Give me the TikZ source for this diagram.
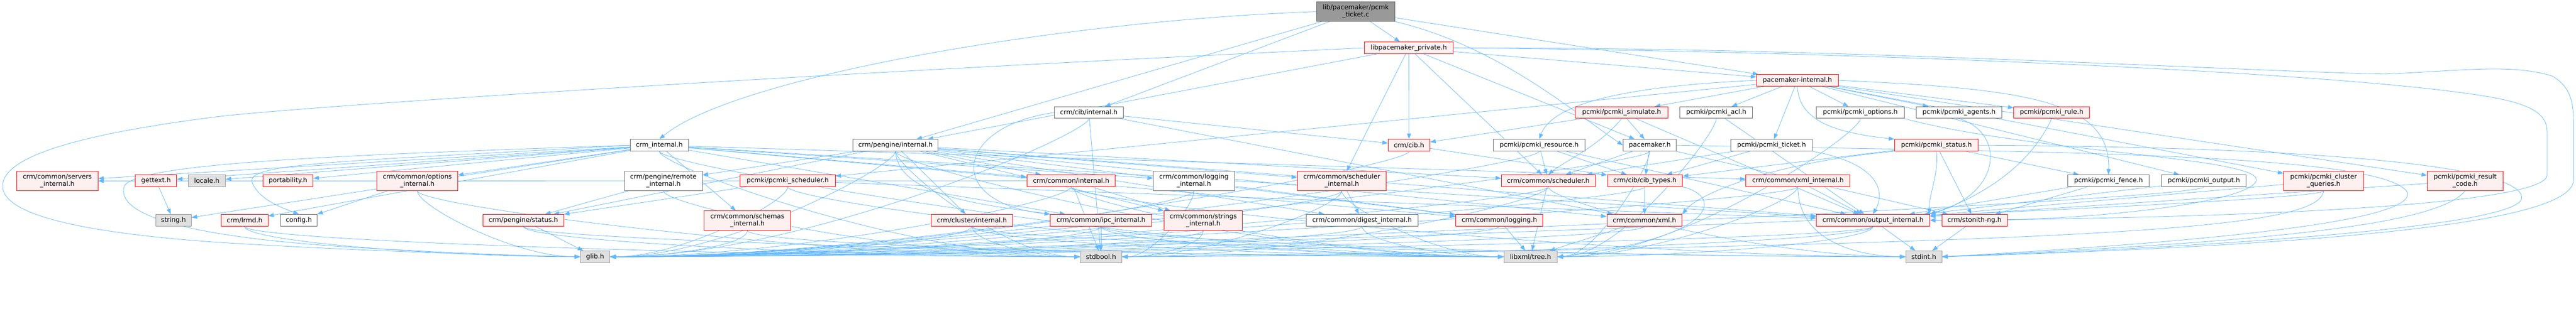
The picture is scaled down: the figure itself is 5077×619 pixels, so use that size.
\documentclass[tikz,border=0pt]{standalone}
\usepackage{fontspec}
\setmainfont{DejaVu Sans}
\usetikzlibrary{arrows.meta,backgrounds,calc}
\definecolor{edgec}{HTML}{63B8FF}
\definecolor{redb}{HTML}{FF0000}
\definecolor{redf}{HTML}{FFF0F0}
\definecolor{grayb}{HTML}{999999}
\definecolor{grayf}{HTML}{E0E0E0}
\definecolor{darkb}{HTML}{666666}
\newcommand\gfont{\fontsize{12.8}{14.2}\selectfont}
\tikzset{
 nbase/.style={draw, line width=1pt, inner sep=0pt, minimum height=23pt, font=\gfont, align=center, text=black},
 rn/.style={nbase, draw=redb, fill=redf},
 wn/.style={nbase, draw=darkb, fill=white},
 gn/.style={nbase, draw=grayb, fill=grayf},
 rootn/.style={nbase, draw=darkb, fill=grayb},
 tl/.style={minimum height=38pt},
 edg/.style={draw=edgec, line width=0.8pt, -{Triangle[length=11pt,width=8pt]}},
}
\newcommand\dnR[3]{\draw[edg] (#1.south) .. controls ($(#1.south)+(0,-30)$) and ($(#2.east)+(#3,0)$) .. (#2.east);}
\newcommand\dnL[3]{\draw[edg] (#1.south) .. controls ($(#1.south)+(0,-30)$) and ($(#2.west)+(-#3,0)$) .. (#2.west);}
\begin{document}
\begin{tikzpicture}[x=1pt,y=1pt]
\useasboundingbox (0,0) rectangle (5077,-619);
% row 0-2
\node[rootn,tl,minimum width=154pt] (root) at (2672,-23) {lib/pacemaker/pcmk\\\_ticket.c};
\node[rn,minimum width=175pt] (priv) at (2776.5,-94.5) {libpacemaker\_private.h};
\node[rn,minimum width=161pt] (pmi) at (3542.5,-158.5) {pacemaker-internal.h};
% row 3
\node[wn,minimum width=136pt] (cibint) at (2146,-222) {crm/cib/internal.h};
\node[rn,minimum width=182pt] (sim) at (3196,-222) {pcmki/pcmki\_simulate.h};
\node[wn,minimum width=143pt] (acl) at (3382.5,-222) {pcmki/pcmki\_acl.h};
\node[wn,minimum width=173pt] (opt) at (3666.5,-222) {pcmki/pcmki\_options.h};
\node[wn,minimum width=168pt] (agents) at (3861,-222) {pcmki/pcmki\_agents.h};
\node[rn,minimum width=149pt] (rule) at (4043.5,-222) {pcmki/pcmki\_rule.h};
% row 4
\node[wn,minimum width=115pt] (crmint) at (1299.5,-286.5) {crm\_internal.h};
\node[wn,minimum width=168pt] (peint) at (1765,-286.5) {crm/pengine/internal.h};
\node[rn,minimum width=82pt] (cibh) at (2777,-286.5) {crm/cib.h};
\node[wn,minimum width=181pt] (res) at (3033.5,-286.5) {pcmki/pcmki\_resource.h};
\node[wn,minimum width=105pt] (pmh) at (3251.5,-286.5) {pacemaker.h};
\node[wn,minimum width=161pt] (ticket) at (3491.5,-286.5) {pcmki/pcmki\_ticket.h};
\node[rn,minimum width=165pt] (status) at (3816.5,-286.5) {pcmki/pcmki\_status.h};
% row 5
\node[rn,tl,minimum width=160pt] (servers) at (113,-357) {crm/common/servers\\\_internal.h};
\node[rn,minimum width=81pt] (gettext) at (307.5,-356.5) {gettext.h};
\node[gn,minimum width=73pt] (locale) at (407.5,-356.5) {locale.h};
\node[rn,minimum width=99pt] (port) at (567.5,-356.5) {portability.h};
\node[rn,tl,minimum width=159pt] (optint) at (822.5,-357) {crm/common/options\\\_internal.h};
\node[wn,tl,minimum width=153pt] (remote) at (1307.5,-357) {crm/pengine/remote\\\_internal.h};
\node[rn,minimum width=187pt] (psched) at (1552.5,-356.5) {pcmki/pcmki\_scheduler.h};
\node[rn,minimum width=174pt] (cint) at (2111,-356.5) {crm/common/internal.h};
\node[wn,tl,minimum width=160pt] (logint) at (2353,-357) {crm/common/logging\\\_internal.h};
\node[rn,tl,minimum width=175pt] (schedint) at (2644.5,-357) {crm/common/scheduler\\\_internal.h};
\node[rn,minimum width=185pt] (sched) at (3051.5,-356.5) {crm/common/scheduler.h};
\node[rn,minimum width=148pt] (cibtypes) at (3242,-356.5) {crm/cib/cib\_types.h};
\node[rn,minimum width=205pt] (xmlint) at (3543.5,-356.5) {crm/common/xml\_internal.h};
\node[wn,minimum width=161pt] (fence) at (4155.5,-356.5) {pcmki/pcmki\_fence.h};
\node[wn,minimum width=167pt] (output) at (4343.5,-356.5) {pcmki/pcmki\_output.h};
\node[rn,tl,minimum width=157pt] (cq) at (4579.5,-357) {pcmki/pcmki\_cluster\\\_queries.h};
\node[rn,tl,minimum width=149pt] (rc) at (4858.5,-357) {pcmki/pcmki\_result\\\_code.h};
% row 6
\node[gn,minimum width=70pt] (string) at (342,-434.5) {string.h};
\node[rn,minimum width=92pt] (lrmd) at (482,-434.5) {crm/lrmd.h};
\node[wn,minimum width=72pt] (config) at (589,-434.5) {config.h};
\node[rn,minimum width=159pt] (pstatus) at (1031.5,-434.5) {crm/pengine/status.h};
\node[rn,tl,minimum width=170pt] (schemas) at (1473,-435) {crm/common/schemas\\\_internal.h};
\node[rn,minimum width=161pt] (clint) at (1915.5,-434.5) {crm/cluster/internal.h};
\node[rn,minimum width=200pt] (ipc) at (2170,-434.5) {crm/common/ipc\_internal.h};
\node[rn,tl,minimum width=155pt] (strint) at (2371.5,-435) {crm/common/strings\\\_internal.h};
\node[wn,minimum width=221pt] (digest) at (2684.5,-434.5) {crm/common/digest\_internal.h};
\node[rn,minimum width=172pt] (logging) at (2955,-434.5) {crm/common/logging.h};
\node[rn,minimum width=148pt] (xml) at (3241,-434.5) {crm/common/xml.h};
\node[rn,minimum width=223pt] (outint) at (3691.5,-434.5) {crm/common/output\_internal.h};
\node[rn,minimum width=129pt] (stonith) at (3891.5,-434.5) {crm/stonith-ng.h};
% row 7
\node[gn,minimum width=58pt] (glib) at (1173,-506.5) {glib.h};
\node[gn,minimum width=82pt] (stdbool) at (2170,-506.5) {stdbool.h};
\node[gn,minimum width=105pt] (tree) at (3016.5,-506.5) {libxml/tree.h};
\node[gn,minimum width=71pt] (stdint) at (3791.5,-506.5) {stdint.h};

\begin{scope}[on background layer]
% root
\draw[edg] (root) -- (priv);
\draw[edg] (root.west) .. controls (2100,-40) and (1450,-150) .. (crmint.north);
\draw[edg] (root) -- (cibint);
\draw[edg] (root) -- (peint);
\draw[edg] (root) -- (pmi);
\draw[edg] (root.south east) .. controls (2950,-90) and (3100,-220) .. (pmh.west);
% libpacemaker_private
\draw[edg] (priv) -- (cibh);
\draw[edg] (priv) -- (schedint);
\draw[edg] (priv) -- (sched);
\draw[edg] (priv) -- (pmh);
\draw[edg] (priv) -- (pmi);
\draw[edg] (priv) -- (peint);
\draw[edg] (priv.west) .. controls (1500,-150) and (600,-210) .. (430,-230) .. controls (150,-265) and (5,-310) .. (5,-367) .. controls (5,-430) and (200,-462) .. (430,-478) .. controls (700,-495) and (1000,-504) .. (glib.west);
\draw[edg] (priv.east) .. controls (3600,-100) and (4600,-140) .. (4900,-190) .. controls (4990,-205) and (5020,-225) .. (5020,-260) -- (5020,-345) .. controls (5020,-400) and (4500,-430) .. (outint.east);
\draw[edg] (priv.east) .. controls (3600,-92) and (4400,-140) .. (4700,-146) .. controls (4850,-140) and (4950,-125) .. (5030,-150) .. controls (5065,-170) and (5072,-200) .. (5072,-240) -- (5072,-355) .. controls (5072,-430) and (4700,-480) .. (stdint.east);
% pacemaker-internal
\draw[edg] (pmi) -- (psched);
\draw[edg] (pmi.west) .. controls (3200,-170) and (3060,-205) .. (res.north);
\draw[edg] (pmi) -- (sim);
\draw[edg] (pmi) -- (acl);
\draw[edg] (pmi) -- (ticket);
\draw[edg] (pmi) -- (opt);
\draw[edg] (pmi) -- (agents);
\draw[edg] (pmi) -- (rule);
\draw[edg] (pmi.south) .. controls (3545,-240) and (3620,-262) .. (status.north west);
\draw[edg] (pmi.east) .. controls (4000,-175) and (4160,-200) .. (fence.north);
\draw[edg] (pmi) -- (output);
\draw[edg] (pmi) -- (cq);
\draw[edg] (pmi) -- (rc);
% crm/cib/internal.h
\draw[edg] (cibint) -- (cibh);
\draw[edg] (cibint.west) .. controls (1880,-250) and (1860,-400) .. (ipc.north west);
\dnR{cibint}{glib}{380}
\draw[edg] (cibint) -- (xml);
\draw[edg] (cibint) -- (stdbool);
% crm_internal.h
\draw[edg] (crmint) -- (servers);
\draw[edg] (crmint) -- (gettext);
\draw[edg] (crmint) -- (locale);
\draw[edg] (crmint) -- (port);
\draw[edg] (crmint.west) .. controls (700,-318) and (480,-320) .. (497,-360) .. controls (510,-392) and (550,-408) .. (config.north);
\draw[edg] (crmint) -- (lrmd);
\draw[edg] (crmint) -- (optint);
\draw[edg] (crmint.west) .. controls (700,-305) and (270,-320) .. (245,-367) .. controls (225,-430) and (400,-470) .. (700,-488) .. controls (900,-500) and (1050,-505) .. (glib.west);
\draw[edg] (crmint) -- (string);
\dnL{crmint}{stdbool}{330}
\dnL{crmint}{tree}{600}
\draw[edg] (crmint) -- (logging);
\draw[edg] (crmint) -- (logint);
\draw[edg] (crmint) -- (ipc);
\draw[edg] (crmint) -- (outint);
\draw[edg] (crmint) -- (xmlint);
\draw[edg] (crmint) -- (cint);
\draw[edg] (crmint) -- (schemas);
% small ones
\draw[edg] (gettext) -- (string);
\draw[edg] (optint) -- (config);
\dnL{optint}{glib}{130}
\dnL{optint}{stdbool}{520}
\dnL{lrmd}{stdbool}{600}
\dnL{lrmd}{glib}{265}
% crm/pengine/internal.h
\draw[edg] (peint) -- (remote);
\draw[edg] (peint) -- (pstatus);
\draw[edg] (peint) -- (cint);
\draw[edg] (peint) -- (clint);
\draw[edg] (peint) -- (schedint);
\dnR{peint}{glib}{225}
\dnL{peint}{stdbool}{145}
\dnL{peint}{tree}{480}
\draw[edg] (peint) -- (logging);
\draw[edg] (peint) -- (strint);
\draw[edg] (peint) -- (outint);
\draw[edg] (peint.south) .. controls (1770,-390) and (1950,-405) .. (ipc.north west);
\draw[edg] (peint) -- (sched);
\draw[edg] (peint) -- (digest);
\draw[edg] (peint) -- (xml);
% remote, pcmki_scheduler, status, schemas
\draw[edg] (remote) -- (pstatus);
\dnL{remote}{stdbool}{330}
\draw[edg] (psched) -- (pstatus);
\dnR{psched}{glib}{140}
\draw[edg] (psched) -- (outint);
\dnL{psched}{tree}{565}
\draw[edg] (pstatus) -- (glib);
\dnL{pstatus}{stdbool}{440}
\dnL{pstatus}{tree}{600}
\dnR{schemas}{glib}{110}
\dnL{schemas}{tree}{600}
% crm/common/internal.h
\draw[edg] (cint) -- (strint);
\draw[edg] (cint) -- (servers);
\dnR{cint}{glib}{360}
\draw[edg] (cint) -- (stdbool);
\dnL{cint}{tree}{340}
\dnL{cint}{stdint}{600}
\draw[edg] (logint) -- (logging);
\dnR{logint}{glib}{460}
\dnR{logint}{stdbool}{60}
\dnR{clint}{glib}{285}
\dnL{clint}{stdbool}{85}
\dnL{clint}{tree}{420}
\dnL{clint}{stdint}{600}
\draw[edg] (ipc) -- (stdbool);
\dnR{ipc}{glib}{390}
\dnL{ipc}{tree}{320}
\dnL{ipc}{stdint}{600}
\dnR{strint}{glib}{470}
\dnR{strint}{stdbool}{65}
\draw[edg] (schedint) -- (digest);
\dnR{schedint}{glib}{580}
\dnR{schedint}{stdbool}{170}
\dnL{schedint}{tree}{130}
\dnL{digest}{tree}{110}
\dnR{digest}{glib}{590}
\draw[edg] (logging) -- (tree);
\dnR{logging}{glib}{600}
\dnR{sched}{glib}{600}
\dnR{sched}{stdbool}{340}
\draw[edg] (sched) -- (tree);
\dnL{sched}{stdint}{280}
\draw[edg] (cibtypes) -- (xml);
\draw[edg] (cibtypes.south east) .. controls (3400,-390) and (3380,-470) .. (tree.east);
\dnR{cibtypes}{glib}{600}
\draw[edg] (xml) -- (tree);
\dnR{xml}{glib}{600}
\draw[edg] (xmlint) -- (outint);
\draw[edg] (xmlint.south) .. controls (3543,-470) and (3650,-505) .. (stdint.west);
\dnR{xmlint}{tree}{190}
\dnR{xmlint}{glib}{600}
\draw[edg] (outint) -- (stdint);
\dnR{outint}{glib}{600}
\dnR{outint}{tree}{250}
\dnR{outint}{stdbool}{590}
\draw[edg] (stonith) -- (stdint);
% pcmki headers
\draw[edg] (res) -- (sched);
\draw[edg] (res) -- (cibtypes);
\dnR{res}{glib}{600}
\draw[edg] (res) -- (outint);
\draw[edg] (pmh) -- (sched);
\draw[edg] (pmh) -- (cibtypes);
\dnR{pmh}{glib}{600}
\dnR{pmh}{tree}{75}
\draw[edg] (pmh) -- (stonith);
\draw[edg] (pmh.east) .. controls (4000,-300) and (4700,-300) .. (4745,-380) .. controls (4760,-440) and (4300,-480) .. (stdint.east);
\draw[edg] (sim) -- (pmh);
\draw[edg] (sim.south) .. controls (3150,-290) and (3080,-320) .. (sched.north);
\draw[edg] (sim) -- (cibh);
\draw[edg] (sim) -- (outint);
\draw[edg] (acl) -- (outint);
\dnR{acl}{tree}{125}
\draw[edg] (ticket.south east) .. controls (3690,-320) and (3720,-370) .. (outint.north);
\draw[edg] (ticket) -- (cibtypes);
\draw[edg] (ticket) -- (sched);
\draw[edg] (opt.south east) .. controls (4000,-300) and (4450,-310) .. (4447,-355) .. controls (4440,-400) and (4100,-440) .. (outint.east);
\dnR{opt}{tree}{240}
\draw[edg] (agents.south) .. controls (3950,-260) and (3950,-380) .. (outint.north east);
\draw[edg] (rule.south) .. controls (4000,-330) and (3900,-390) .. (outint.north east);
\draw[edg] (status.south) .. controls (3822,-340) and (3800,-390) .. (outint.north east);
\draw[edg] (status) -- (fence);
\draw[edg] (status) -- (stonith);
\draw[edg] (status) -- (cibtypes);
\draw[edg] (status.south west) .. controls (3500,-320) and (3350,-380) .. (xml.north east);
\draw[edg] (status.east) .. controls (4600,-290) and (4970,-330) .. (4970,-390) .. controls (4970,-450) and (4300,-490) .. (stdint.east);
\draw[edg] (fence) -- (stonith);
\draw[edg] (fence) -- (outint);
\draw[edg] (output) -- (outint);
\dnR{output}{glib}{600}
\draw[edg] (cq) -- (outint);
\draw[edg] (cq.south) .. controls (4570,-450) and (4200,-480) .. (stdbool.east);
\dnR{cq}{glib}{600}
\draw[edg] (rc) -- (outint);
\draw[edg] (rc.south) .. controls (4800,-450) and (4400,-480) .. (stdint.east);
\draw[edg] (cibh) -- (cibtypes);
\dnR{cibh}{glib}{600}
\end{scope}
\end{tikzpicture}
\end{document}
